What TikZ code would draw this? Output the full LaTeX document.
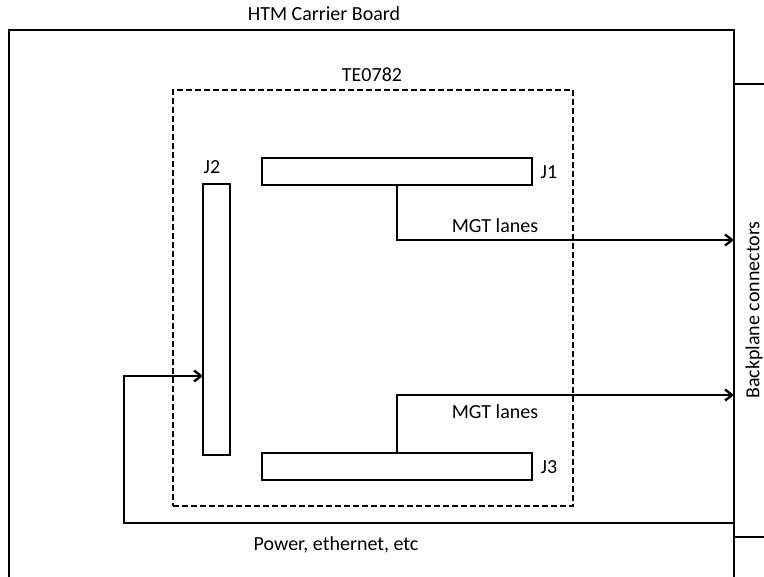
\documentclass[tikz,border=0pt]{standalone}
\usepackage{fontspec}
\setmainfont{Carlito}
\usetikzlibrary{arrows.meta}
\begin{document}
\begin{tikzpicture}[x=1pt,y=-1pt,
  every node/.style={font=\fontsize{20}{24}\selectfont},
  conn/.style={draw,line width=2.4pt,inner sep=0pt,outer sep=0pt,fill=white},
  line/.style={line width=2.4pt},
  arr/.style={line width=2.4pt,-{Straight Barb[length=7pt,width=11pt,line width=2.4pt]}},
  lbl/.style={inner sep=0pt,anchor=center}]
\useasboundingbox (0,0) rectangle (764,577);
% outer carrier board
\draw[line] (9,580) -- (9,30) -- (734,30) -- (734,580);
\draw[line] (734,84) -- (766,84);
\draw[line] (734,537) -- (766,537);
\node[lbl] (htm) at (324,14) {HTM Carrier Board};
\node[lbl,rotate=90] (bp) at (754,310) {Backplane connectors};
% module
\node[draw,line width=2.4pt,dash pattern=on 6pt off 3pt,minimum width=400pt,minimum height=416pt,inner sep=0pt] (te) at (373,298) {};
\node[lbl] (telbl) at (372,75) {TE0782};
% connectors
\node[conn,minimum width=270pt,minimum height=27pt] (J1) at (397,171.5) {};
\node[conn,minimum width=270pt,minimum height=27pt] (J3) at (397,466.5) {};
\node[conn,minimum width=27pt,minimum height=271pt] (J2) at (216.5,319.5) {};
\node[lbl] (J1l) at (549,172) {J1};
\node[lbl] (J3l) at (549,467) {J3};
\node[lbl] (J2l) at (212,167) {J2};
% targets
\coordinate (bp1) at (734,240);
\coordinate (bp2) at (734,395);
\coordinate (pw) at (734,523);
\coordinate (pc) at (124,523);
\coordinate (pj) at (203,376);
\draw[arr] (J1.south) |- (bp1);
\draw[arr] (J3.north) |- (bp2);
\draw[arr] (pw) -- (pc) |- (pj);
\node[lbl] (m1) at (495,226) {MGT lanes};
\node[lbl] (m2) at (495,412) {MGT lanes};
\node[lbl] (pwl) at (336,545) {Power, ethernet, etc};
\end{tikzpicture}
\end{document}
